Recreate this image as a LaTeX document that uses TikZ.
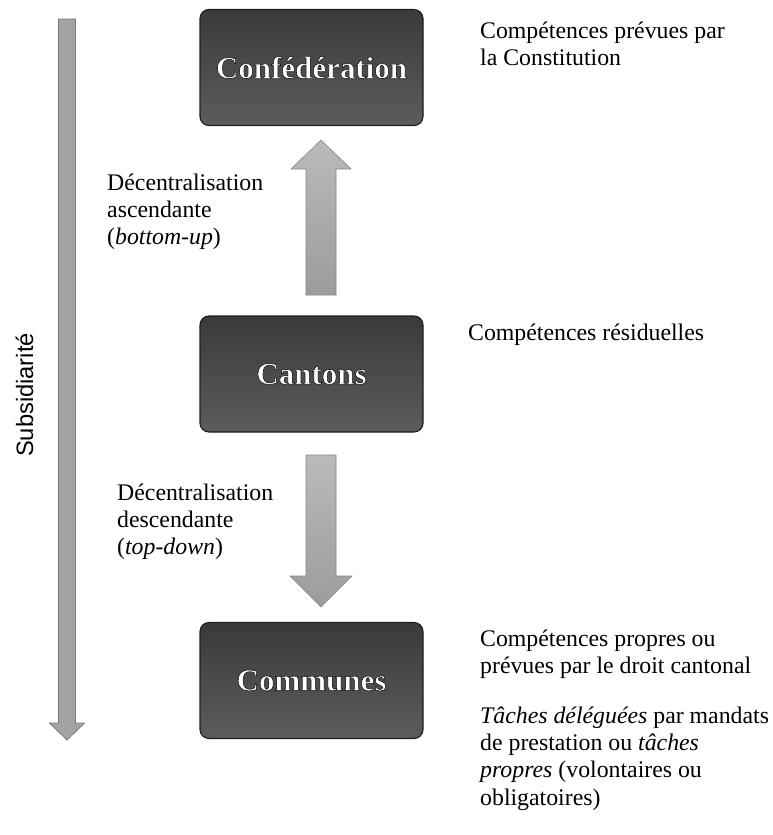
\documentclass[tikz,border=0pt]{standalone}
\usepackage{fontspec}
\setmainfont{Liberation Serif}
\setsansfont{Liberation Sans}
% heavy face with a stroked outline: white letters with a dark rim
\newfontfamily\tierfont[FakeBold=1.5]{Liberation Serif Bold}
\newcommand\rimmed[1]{\special{pdf:bcolor [1] [0]}#1\special{pdf:ecolor}}

\definecolor{tiertop}{RGB}{58,58,58}
\definecolor{tierbot}{RGB}{92,92,92}
\definecolor{tierrim}{RGB}{30,30,30}
\definecolor{flowlight}{RGB}{186,186,186}
\definecolor{flowdark}{RGB}{156,156,156}
\definecolor{flowrim}{RGB}{135,135,135}
\definecolor{axisfill}{RGB}{163,163,163}
\definecolor{axisrim}{RGB}{120,120,120}

\begin{document}
\begin{tikzpicture}[x=1pt,y=-1pt,
  tier/.style={draw=tierrim, line width=1.1pt, rounded corners=9pt,
    top color=tiertop, bottom color=tierbot,
    minimum width=223pt, minimum height=116pt, inner sep=0pt,
    font=\tierfont\fontsize{31}{36}\selectfont},
  note/.style={inner sep=0pt, align=left, anchor=north west,
    font=\fontsize{23.8}{27.3}\selectfont},
  flow/.style={draw=flowrim, line width=0.6pt, top color=flowlight, bottom color=flowdark},
  axisarrow/.style={draw=axisrim, line width=0.8pt, fill=axisfill}]
\useasboundingbox (0,0) rectangle (773,835);

% the three tiers
\node[tier] (conf) at (311.5,67.5) {\rimmed{Confédération}};
\node[tier] (cant) at (311.5,374) {\rimmed{Cantons}};
\node[tier] (comm) at (311.5,680.5) {\rimmed{Communes}};

% subsidiarity axis
\coordinate (axtop) at (67,19);
\coordinate (axtip) at (67,740);
\draw[axisarrow] ([xshift=-8.5pt]axtop) -- ([xshift=8.5pt]axtop)
  -- ([xshift=8.5pt]axtip |- 0,723) -- ([xshift=17.5pt]axtip |- 0,723)
  -- (axtip) -- ([xshift=-17.5pt]axtip |- 0,723)
  -- ([xshift=-8.5pt]axtip |- 0,723) -- cycle;
\node[rotate=90, anchor=base, inner sep=0pt,
  font=\sffamily\fontsize{23.7}{28}\selectfont] (subs) at (33,395) {Subsidiarité};

% bottom-up arrow: Cantons towards Confédération
\draw[flow] (306,295) -- (306,169) -- (291,169) -- (321,140)
  -- (351,169) -- (336,169) -- (336,295) -- cycle;
% top-down arrow: Cantons towards Communes
\draw[flow] (306,455) -- (336,455) -- (336,576) -- (352,576)
  -- (321,607) -- (290,576) -- (306,576) -- cycle;

% labels
\node[note] (asc) at (107,170.8)
  {\strut Décentralisation\\ascendante\\(\textit{bottom-up})};
\node[note] (desc) at (117,480.8)
  {\strut Décentralisation\\descendante\\(\textit{top-down})};
\node[note] (confnote) at (480,18.8)
  {\strut Compétences prévues par\\la Constitution};
\node[note] (cantnote) at (468,320.8)
  {\strut Compétences résiduelles};
\node[note] (commnote) at (480,626.8)
  {\strut Compétences propres ou\\prévues par le droit cantonal\\[22.5pt]
   \textit{Tâches déléguées} par mandats\\de prestation ou \textit{tâches}\\
   \textit{propres} (volontaires ou\\obligatoires)};
\end{tikzpicture}
\end{document}
